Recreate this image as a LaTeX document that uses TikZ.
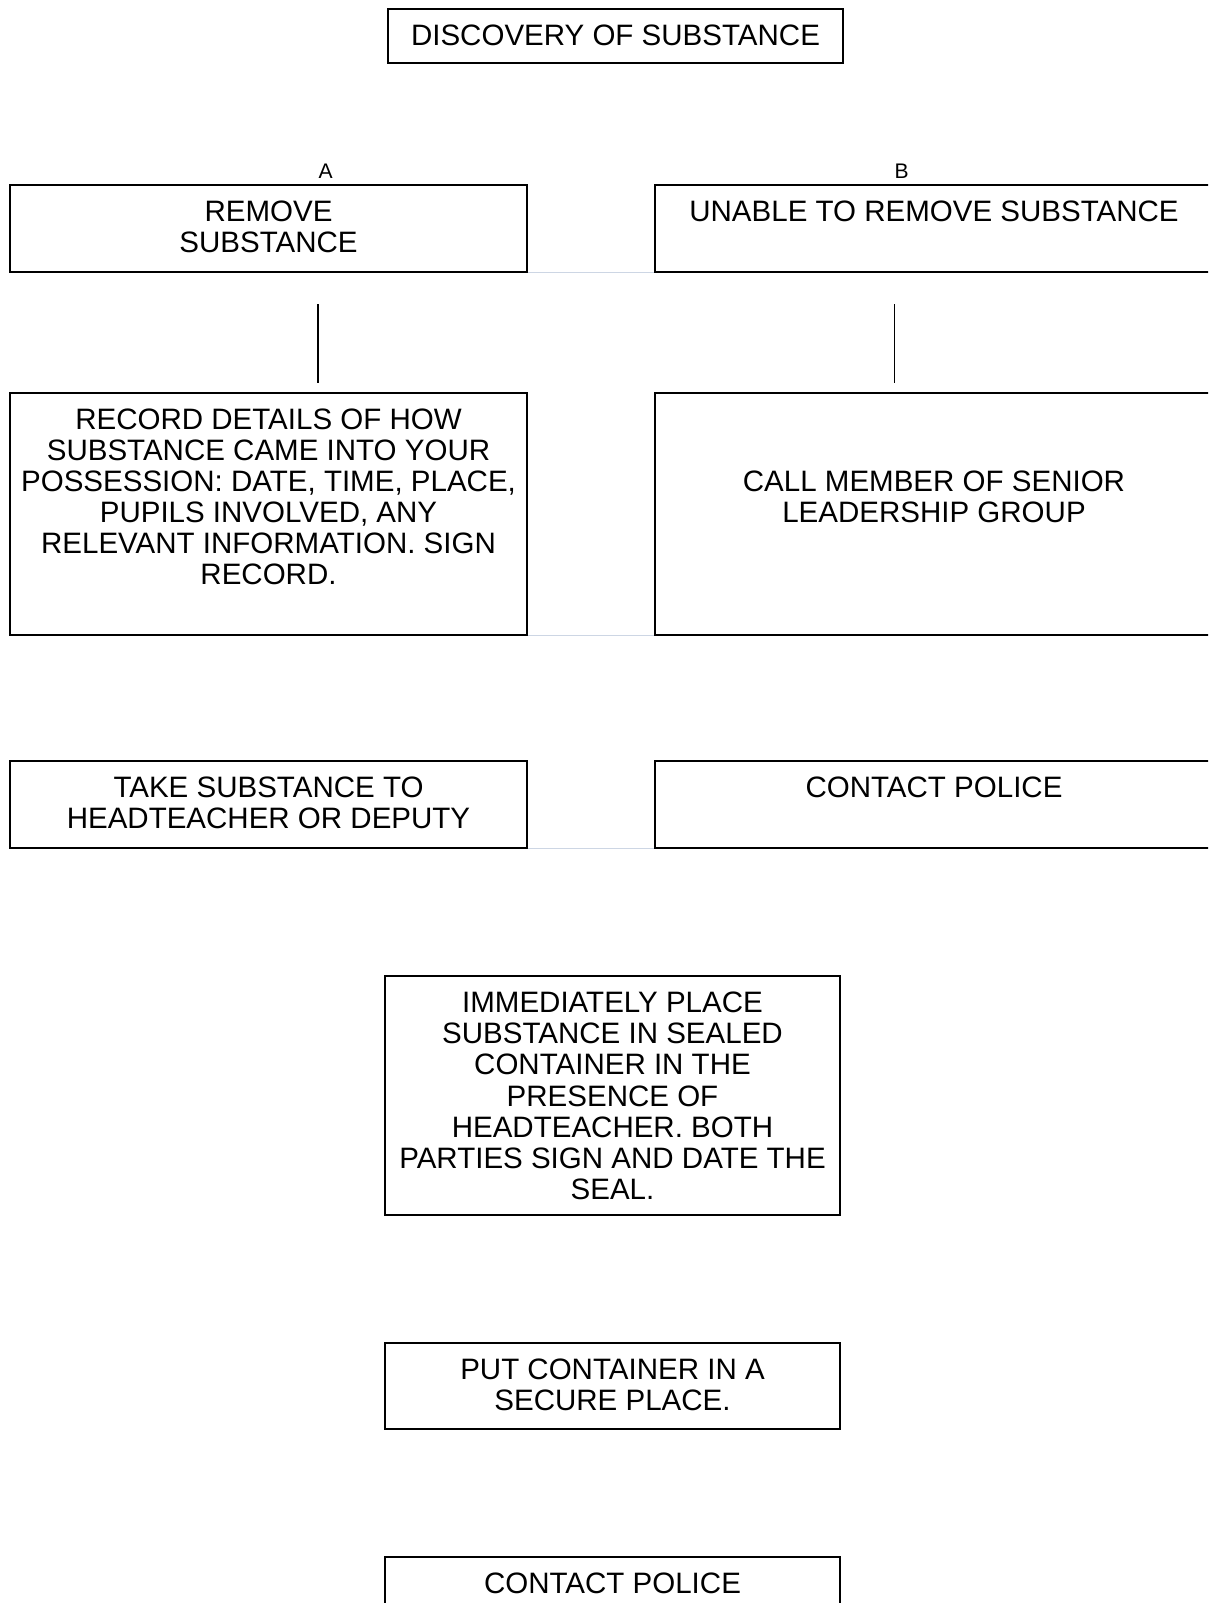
\documentclass[tikz,border=0pt]{standalone}
\usepackage{fontspec}
\setmainfont{Liberation Sans}
\usetikzlibrary{positioning}
\definecolor{cellgrey}{RGB}{205,214,228}
\tikzset{
  box/.style={draw, line width=0.9pt, inner sep=0pt},
  txt/.style={inner sep=0pt, align=center, font=\fontsize{16.8}{17.7}\selectfont},
  tag/.style={inner sep=0pt, font=\fontsize{12}{14}\selectfont},
  faint/.style={draw=cellgrey, line width=0.6pt},
  stem/.style={line width=0.6pt}
}
\begin{document}
\begin{tikzpicture}[x=0.02cm,y=-0.02cm]
  \useasboundingbox (0,0) rectangle (1208,1603);
  \clip (0,0) rectangle (1208,1603);

  % top
  \node[box, minimum width=9.10cm, minimum height=1.08cm] (disc) at (615.5,36) {};
  \node[txt, below=0.32cm of disc.north] (discT) {DISCOVERY OF SUBSTANCE};

  % column heads
  \node[tag] (labA) at (325.7,171.5) {A};
  \node[tag] (labB) at (901.7,171.5) {B};

  % column A
  \node[box, minimum width=10.34cm, minimum height=1.74cm] (remove) at (268.5,228.5) {};
  \node[txt, below=0.32cm of remove.north] (removeT) {REMOVE\\SUBSTANCE};
  \node[box, minimum width=10.34cm, minimum height=4.84cm] (record) at (268.5,514) {};
  \node[txt, below=0.32cm of record.north] (recordT) {RECORD DETAILS OF HOW\\SUBSTANCE CAME INTO YOUR\\POSSESSION: DATE, TIME, PLACE,\\PUPILS INVOLVED, ANY\\RELEVANT INFORMATION. SIGN\\RECORD.};
  \node[box, minimum width=10.34cm, minimum height=1.74cm] (take) at (268.5,804.5) {};
  \node[txt, below=0.32cm of take.north] (takeT) {TAKE SUBSTANCE TO\\HEADTEACHER OR DEPUTY};

  % column B
  \node[box, minimum width=11.16cm, minimum height=1.74cm] (unable) at (934,228.5) {};
  \node[txt, below=0.32cm of unable.north] (unableT) {UNABLE TO REMOVE SUBSTANCE};
  \node[box, minimum width=11.16cm, minimum height=4.84cm] (callslg) at (934,514) {};
  \node[txt, below=1.56cm of callslg.north] (callslgT) {CALL MEMBER OF SENIOR\\LEADERSHIP GROUP};
  \node[box, minimum width=11.16cm, minimum height=1.74cm] (police) at (934,804.5) {};
  \node[txt, below=0.32cm of police.north] (policeT) {CONTACT POLICE};

  % cell borders between columns
  \draw[faint] (remove.south east) -- (unable.south west);
  \draw[faint] (record.south east) -- (callslg.south west);
  \draw[faint] (take.south east) -- (police.south west);

  % short stems
  \coordinate (stemA1) at (318,304);
  \coordinate (stemA2) at (318,383);
  \coordinate (stemB1) at (894.5,304);
  \coordinate (stemB2) at (894.5,383);
  \draw[stem] (stemA1) -- (stemA2);
  \draw[stem] (stemB1) -- (stemB2);

  % centre column
  \node[box, minimum width=9.10cm, minimum height=4.78cm] (seal) at (612.5,1095.5) {};
  \node[txt, below=0.33cm of seal.north] (sealT) {IMMEDIATELY PLACE\\SUBSTANCE IN SEALED\\CONTAINER IN THE\\PRESENCE OF\\HEADTEACHER. BOTH\\PARTIES SIGN AND DATE THE\\SEAL.};
  \node[box, minimum width=9.10cm, minimum height=1.72cm] (secure) at (612.5,1386) {};
  \node[txt, below=0.32cm of secure.north] (secureT) {PUT CONTAINER IN A\\SECURE PLACE.};
  \node[box, minimum width=9.10cm, minimum height=1.72cm] (policeb) at (612.5,1600) {};
  \node[txt, below=0.32cm of policeb.north] (policebT) {CONTACT POLICE};
\end{tikzpicture}
\end{document}
